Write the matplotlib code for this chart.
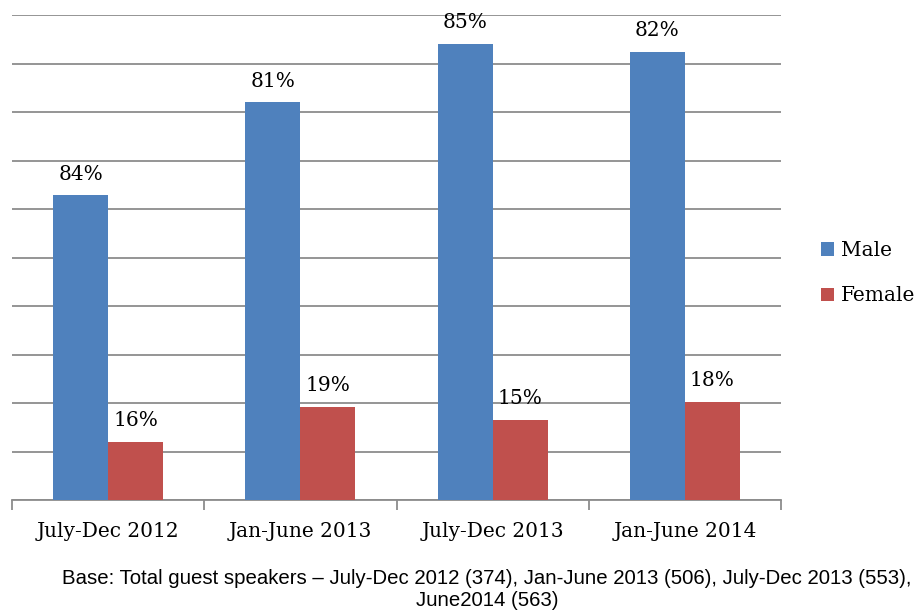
import matplotlib.pyplot as plt
import numpy as np

periods = ["July-Dec 2012", "Jan-June 2013", "July-Dec 2013", "Jan-June 2014"]
male = [314, 410, 470, 462]
female = [60, 96, 83, 101]
male_pct = ["84%", "81%", "85%", "82%"]
female_pct = ["16%", "19%", "15%", "18%"]

fig = plt.figure(figsize=(9.15, 6.1), dpi=100)
ax = fig.add_axes([0.0131, 0.1803, 0.8405, 0.7951])

x = np.arange(len(periods))
w = 0.286
bar1 = ax.bar(x - w/2, male, w, color="#4F81BD", label="Male", zorder=3)
bar2 = ax.bar(x + w/2, female, w, color="#C0504D", label="Female", zorder=3)

serif = "DejaVu Serif"
for rect, t in zip(bar1, male_pct):
    ax.text(rect.get_x() + rect.get_width()/2, rect.get_height() + 12, t,
            ha='center', va='bottom', fontsize=14.5, family=serif)
for rect, t in zip(bar2, female_pct):
    ax.text(rect.get_x() + rect.get_width()/2, rect.get_height() + 12, t,
            ha='center', va='bottom', fontsize=14.5, family=serif)

ax.set_xlim(-0.5, len(periods) - 0.5)
ax.set_ylim(0, 500)
ax.set_yticks(np.arange(0, 501, 50))
ax.yaxis.grid(True, color="#8c8c8c", linewidth=1.3, zorder=0)
ax.tick_params(axis='y', left=False, labelleft=False)

ax.set_xticks(x)
ax.set_xticklabels(periods, fontsize=14.5, family=serif)
ax.set_xticks(np.arange(-0.5, len(periods)), minor=True)
ax.tick_params(axis='x', which='major', length=0, pad=16)
ax.tick_params(axis='x', which='minor', length=7, width=1.3, color="#8c8c8c", direction='out')

for s in ["left", "right", "top"]:
    ax.spines[s].set_visible(False)
ax.spines["bottom"].set_color("#8c8c8c")
ax.spines["bottom"].set_linewidth(1.3)

ax.legend(loc='center left', bbox_to_anchor=(0.897, 0.552), bbox_transform=fig.transFigure,
          frameon=False, borderpad=0, borderaxespad=0,
          prop={'family': serif, 'size': 14.5}, handlelength=0.65, handleheight=0.65,
          handletextpad=0.35, labelspacing=1.3)

fig.text(0.532, 0.068,
         "Base: Total guest speakers \u2013 July-Dec 2012 (374), Jan-June 2013 (506), July-Dec 2013 (553),\nJune2014 (563)",
         ha='center', va='top', fontsize=14.7, family="Liberation Sans", linespacing=1.2)

fig.savefig("out.png", dpi=100)
